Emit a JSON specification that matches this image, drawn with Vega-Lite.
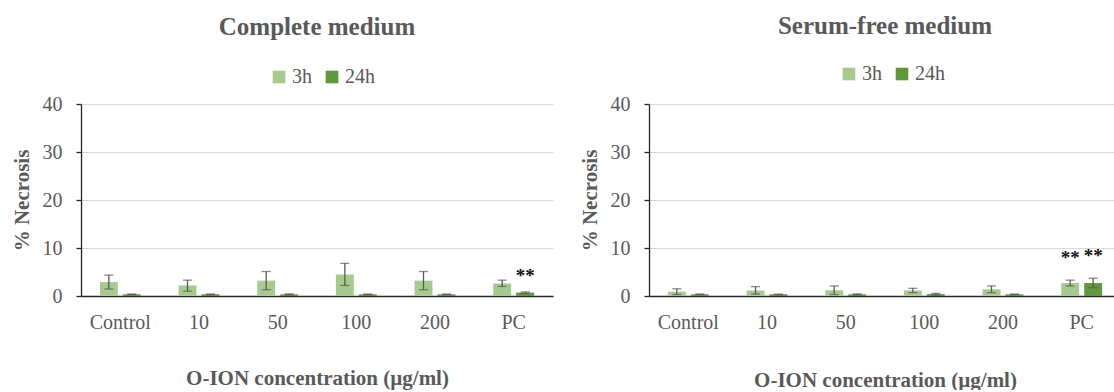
{
  "$schema": "https://vega.github.io/schema/vega-lite/v6.json",
  "padding": {"left": 11, "top": 14, "right": 0, "bottom": 0},
  "background": "white",
  "config": {
    "font": "Liberation Serif",
    "view": {"stroke": null},
    "title": {"font": "Liberation Serif", "fontSize": 25, "fontWeight": "bold", "color": "#595959", "anchor": "middle"},
    "axis": {"labelFont": "Liberation Serif", "titleFont": "Liberation Serif", "labelColor": "#595959", "titleColor": "#595959", "labelFontSize": 20, "titleFontSize": 21, "titleFontWeight": "bold"},
    "legend": {"labelFont": "Liberation Serif", "labelColor": "#595959", "labelFontSize": 20},
    "style": {"guide-label": {"font": "Liberation Serif"}, "guide-title": {"font": "Liberation Serif"}, "group-title": {"font": "Liberation Serif"}}
  },
  "datasets": {
    "complete": [
      {"dose": "Control", "time": "3h", "mean": 2.9, "lo": 1.45, "hi": 4.35, "sig": ""},
      {"dose": "Control", "time": "24h", "mean": 0.35, "lo": 0.28, "hi": 0.42, "sig": ""},
      {"dose": "10", "time": "3h", "mean": 2.2, "lo": 1.0, "hi": 3.3, "sig": ""},
      {"dose": "10", "time": "24h", "mean": 0.35, "lo": 0.28, "hi": 0.42, "sig": ""},
      {"dose": "50", "time": "3h", "mean": 3.2, "lo": 1.3, "hi": 5.1, "sig": ""},
      {"dose": "50", "time": "24h", "mean": 0.35, "lo": 0.25, "hi": 0.45, "sig": ""},
      {"dose": "100", "time": "3h", "mean": 4.5, "lo": 2.2, "hi": 6.8, "sig": ""},
      {"dose": "100", "time": "24h", "mean": 0.35, "lo": 0.28, "hi": 0.42, "sig": ""},
      {"dose": "200", "time": "3h", "mean": 3.2, "lo": 1.3, "hi": 5.1, "sig": ""},
      {"dose": "200", "time": "24h", "mean": 0.35, "lo": 0.28, "hi": 0.42, "sig": ""},
      {"dose": "PC", "time": "3h", "mean": 2.6, "lo": 2.0, "hi": 3.3, "sig": ""},
      {"dose": "PC", "time": "24h", "mean": 0.7, "lo": 0.55, "hi": 0.85, "sig": "**"}
    ],
    "serumfree": [
      {"dose": "Control", "time": "3h", "mean": 0.9, "lo": 0.3, "hi": 1.5, "sig": ""},
      {"dose": "Control", "time": "24h", "mean": 0.35, "lo": 0.3, "hi": 0.4, "sig": ""},
      {"dose": "10", "time": "3h", "mean": 1.15, "lo": 0.4, "hi": 1.95, "sig": ""},
      {"dose": "10", "time": "24h", "mean": 0.35, "lo": 0.3, "hi": 0.4, "sig": ""},
      {"dose": "50", "time": "3h", "mean": 1.2, "lo": 0.3, "hi": 2.1, "sig": ""},
      {"dose": "50", "time": "24h", "mean": 0.35, "lo": 0.25, "hi": 0.45, "sig": ""},
      {"dose": "100", "time": "3h", "mean": 1.15, "lo": 0.7, "hi": 1.6, "sig": ""},
      {"dose": "100", "time": "24h", "mean": 0.4, "lo": 0.2, "hi": 0.55, "sig": ""},
      {"dose": "200", "time": "3h", "mean": 1.4, "lo": 0.7, "hi": 2.1, "sig": ""},
      {"dose": "200", "time": "24h", "mean": 0.35, "lo": 0.3, "hi": 0.4, "sig": ""},
      {"dose": "PC", "time": "3h", "mean": 2.7, "lo": 2.1, "hi": 3.3, "sig": "**"},
      {"dose": "PC", "time": "24h", "mean": 2.7, "lo": 1.7, "hi": 3.7, "sig": "**"}
    ]
  },
  "hconcat": [
    {
      "width": 472,
      "height": 192,
      "title": {"text": "Complete medium", "offset": 27, "font": "Liberation Serif"},
      "data": {"name": "complete"},
      "encoding": {
        "x": {"field": "dose", "type": "nominal", "sort": ["Control", "10", "50", "100", "200", "PC"], "scale": {"paddingInner": 0.48, "paddingOuter": 0.24},
          "axis": {"title": "O-ION concentration (µg/ml)", "labelFont": "Liberation Serif", "titleFont": "Liberation Serif", "labelAngle": 0, "ticks": false, "tickSize": 0, "labelPadding": 16, "titlePadding": 35, "domainColor": "#262626", "domainWidth": 1.3}},
        "xOffset": {"field": "time", "type": "nominal", "sort": ["3h", "24h"], "scale": {"paddingInner": 0.22, "paddingOuter": 0}}
      },
      "layer": [
        {
          "mark": {"type": "bar"},
          "encoding": {
            "y": {"field": "mean", "type": "quantitative", "scale": {"domain": [0, 40]},
              "axis": {"title": "% Necrosis", "labelFont": "Liberation Serif", "titleFont": "Liberation Serif", "values": [0, 10, 20, 30, 40], "gridColor": "#D9D9D9", "gridWidth": 1, "domainColor": "#262626", "domainWidth": 1.3, "tickColor": "#262626", "tickSize": 5, "tickWidth": 1.3, "labelPadding": 14, "titlePadding": 10}},
            "color": {"field": "time", "type": "nominal", "sort": ["3h", "24h"], "scale": {"domain": ["3h", "24h"], "range": ["#A6CB8E", "#60993C"]},
              "legend": {"title": null, "labelFont": "Liberation Serif", "orient": "none", "direction": "horizontal", "legendX": 188, "legendY": -37, "symbolType": "square", "symbolSize": 160, "symbolStrokeWidth": 0, "labelOffset": 3, "columnPadding": 10}}
          }
        },
        {
          "mark": {"type": "rule", "color": "#595959", "strokeWidth": 1.3},
          "encoding": {"y": {"field": "lo", "type": "quantitative"}, "y2": {"field": "hi"}}
        },
        {
          "mark": {"type": "tick", "color": "#595959", "thickness": 1.3, "size": 9, "orient": "horizontal"},
          "encoding": {"y": {"field": "lo", "type": "quantitative"}}
        },
        {
          "mark": {"type": "tick", "color": "#595959", "thickness": 1.3, "size": 9, "orient": "horizontal"},
          "encoding": {"y": {"field": "hi", "type": "quantitative"}}
        },
        {
          "mark": {"type": "text", "font": "Liberation Serif", "color": "#111111", "fontSize": 19, "fontWeight": "bold", "baseline": "alphabetic", "dy": -10},
          "encoding": {"y": {"field": "hi", "type": "quantitative"}, "text": {"field": "sig"}}
        }
      ]
    },
    {
      "width": 472,
      "height": 192,
      "title": {"text": "Serum-free medium", "offset": 25, "font": "Liberation Serif"},
      "data": {"name": "serumfree"},
      "encoding": {
        "x": {"field": "dose", "type": "nominal", "sort": ["Control", "10", "50", "100", "200", "PC"], "scale": {"paddingInner": 0.48, "paddingOuter": 0.24},
          "axis": {"title": "O-ION concentration (µg/ml)", "labelFont": "Liberation Serif", "titleFont": "Liberation Serif", "labelAngle": 0, "ticks": false, "tickSize": 0, "labelPadding": 16, "titlePadding": 37, "domainColor": "#262626", "domainWidth": 1.3}},
        "xOffset": {"field": "time", "type": "nominal", "sort": ["3h", "24h"], "scale": {"paddingInner": 0.22, "paddingOuter": 0}}
      },
      "layer": [
        {
          "mark": {"type": "bar"},
          "encoding": {
            "y": {"field": "mean", "type": "quantitative", "scale": {"domain": [0, 40]},
              "axis": {"title": "% Necrosis", "labelFont": "Liberation Serif", "titleFont": "Liberation Serif", "values": [0, 10, 20, 30, 40], "gridColor": "#D9D9D9", "gridWidth": 1, "domainColor": "#262626", "domainWidth": 1.3, "tickColor": "#262626", "tickSize": 5, "tickWidth": 1.3, "labelPadding": 14, "titlePadding": 10}},
            "color": {"field": "time", "type": "nominal", "sort": ["3h", "24h"], "scale": {"domain": ["3h", "24h"], "range": ["#A6CB8E", "#60993C"]},
              "legend": {"title": null, "labelFont": "Liberation Serif", "orient": "none", "direction": "horizontal", "legendX": 190, "legendY": -40, "symbolType": "square", "symbolSize": 160, "symbolStrokeWidth": 0, "labelOffset": 3, "columnPadding": 10}}
          }
        },
        {
          "mark": {"type": "rule", "color": "#595959", "strokeWidth": 1.3},
          "encoding": {"y": {"field": "lo", "type": "quantitative"}, "y2": {"field": "hi"}}
        },
        {
          "mark": {"type": "tick", "color": "#595959", "thickness": 1.3, "size": 9, "orient": "horizontal"},
          "encoding": {"y": {"field": "lo", "type": "quantitative"}}
        },
        {
          "mark": {"type": "tick", "color": "#595959", "thickness": 1.3, "size": 9, "orient": "horizontal"},
          "encoding": {"y": {"field": "hi", "type": "quantitative"}}
        },
        {
          "mark": {"type": "text", "font": "Liberation Serif", "color": "#111111", "fontSize": 19, "fontWeight": "bold", "baseline": "alphabetic", "dy": -16},
          "encoding": {"y": {"field": "hi", "type": "quantitative"}, "text": {"field": "sig"}}
        }
      ]
    }
  ],
  "resolve": {"legend": {"color": "independent"}, "scale": {"color": "independent"}},
  "spacing": 26
}
